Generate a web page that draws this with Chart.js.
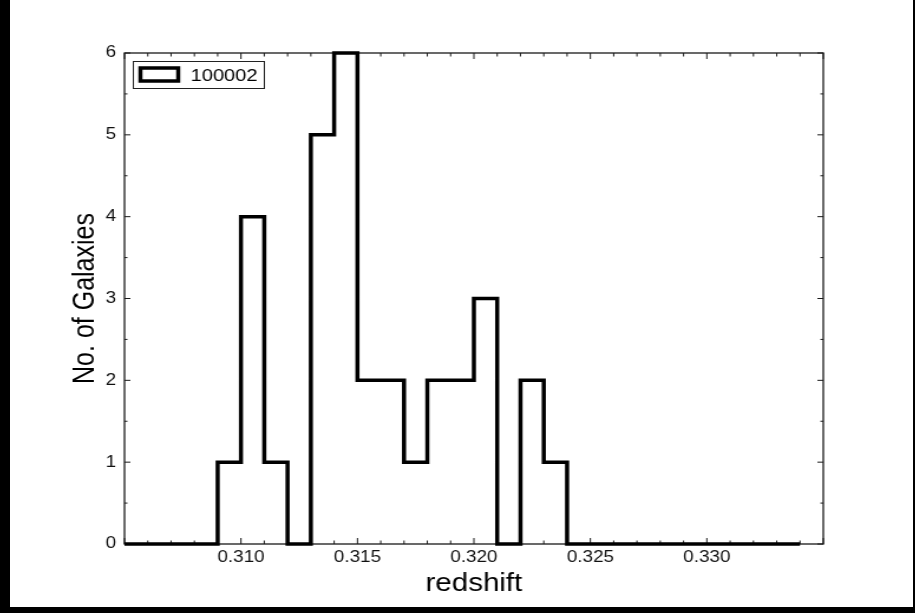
<!DOCTYPE html>
<html>
<head>
<meta charset="utf-8">
<script src="https://cdn.jsdelivr.net/npm/chart.js@4/dist/chart.umd.min.js"></script>
<style>
  html, body { margin: 0; padding: 0; background: #000; }
  #paper { position: absolute; left: 10px; top: 0; width: 903px; height: 607px; background: #fff; overflow: hidden; }
  /* the source picture is stretched sideways a bit, so the canvas is too */
  #chart { display: block; transform-origin: 0 0; transform: scaleX(1.1804); }
</style>
</head>
<body>
<div id="paper"><canvas id="chart" width="765" height="607"></canvas></div>
<script>
// histogram of redshifts, bins of 0.001 (only the edges where the count changes)
const binEdges = [0.305, 0.309, 0.310, 0.311, 0.312, 0.313, 0.314, 0.315, 0.317, 0.318, 0.320, 0.321, 0.322, 0.323, 0.324, 0.334]
const galaxyCounts = [0, 1, 4, 1, 0, 5, 6, 2, 1, 2, 3, 0, 2, 1, 0, 0]
const xTicks = [0.310, 0.315, 0.320, 0.325, 0.330]
const yTicks = [0, 1, 2, 3, 4, 5, 6]
const seriesLabel = '100002'

const FONT = '"Liberation Sans", Arial, Helvetica, sans-serif'

// box round the plot, ticks pointing inwards on all four sides, legend inside
const framePlugin = {
  id: 'frame',
  beforeDatasetsDraw(chart) {
    const { ctx, chartArea: a, scales: { x, y } } = chart
    ctx.save()
    ctx.strokeStyle = '#1a1a1a'
    ctx.lineWidth = 1.3
    ctx.strokeRect(a.left, a.top, a.right - a.left, a.bottom - a.top)

    ctx.lineWidth = 1
    ctx.beginPath()
    for (let i = 0; i <= 30; i++) {
      const px = x.getPixelForValue(x.min + i * 0.001)
      const len = i % 5 === 0 ? 6 : 3.5
      ctx.moveTo(px, a.bottom); ctx.lineTo(px, a.bottom - len)
      ctx.moveTo(px, a.top); ctx.lineTo(px, a.top + len)
    }
    for (let i = 0; i <= 12; i++) {
      const py = y.getPixelForValue(i * 0.5)
      const len = i % 2 === 0 ? 5 : 2.5
      ctx.moveTo(a.left, py); ctx.lineTo(a.left + len, py)
      ctx.moveTo(a.right, py); ctx.lineTo(a.right - len, py)
    }
    ctx.stroke()
    ctx.restore()
  },
  afterDraw(chart) {
    const { ctx, chartArea: a } = chart
    const bx = a.left + 7
    const by = a.top + 8
    ctx.save()
    ctx.fillStyle = '#fff'
    ctx.fillRect(bx, by, 111, 27)
    ctx.strokeStyle = '#222'
    ctx.lineWidth = 1
    ctx.strokeRect(bx + 0.5, by + 0.5, 111, 27)
    ctx.strokeStyle = '#000'
    ctx.lineWidth = 3.5
    ctx.strokeRect(bx + 6.5, by + 7, 32, 13)
    ctx.fillStyle = '#000'
    ctx.font = '17px ' + FONT
    ctx.textBaseline = 'alphabetic'
    ctx.fillText(chart.data.datasets[0].label, bx + 49, by + 19.5)
    ctx.restore()
  }
}

const ctx = document.getElementById('chart').getContext('2d')
new Chart(ctx, {
  type: 'line',
  data: {
    datasets: [{
      label: seriesLabel,
      data: binEdges.map((edge, i) => ({ x: edge, y: galaxyCounts[i] })),
      stepped: 'before',
      borderColor: '#000',
      borderWidth: 3.5,
      pointRadius: 0,
      fill: false,
      clip: false,
    }]
  },
  options: {
    responsive: false,
    animation: false,
    layout: { padding: { top: 53, right: 76, left: 0, bottom: 0 } },
    plugins: {
      legend: { display: false },
      tooltip: { enabled: false },
    },
    scales: {
      x: {
        type: 'linear',
        min: 0.305,
        max: 0.335,
        afterBuildTicks: (scale) => { scale.ticks = xTicks.map((v) => ({ value: v })) },
        afterFit: (scale) => { scale.height = 63 },
        grid: { display: false, drawTicks: false },
        border: { display: false },
        ticks: {
          padding: 4,
          color: '#111',
          font: { family: FONT, size: 16 },
          maxRotation: 0,
          callback: (v) => Number(v).toFixed(3),
        },
        title: {
          display: true,
          text: 'redshift',
          color: '#000',
          font: { family: FONT, size: 25 },
          padding: { top: 0, bottom: 8 },
        },
      },
      y: {
        min: 0,
        max: 6,
        afterBuildTicks: (scale) => { scale.ticks = yTicks.map((v) => ({ value: v })) },
        afterFit: (scale) => { scale.width = 97 },
        grid: { display: false, drawTicks: false },
        border: { display: false },
        ticks: {
          padding: 7,
          color: '#111',
          font: { family: FONT, size: 16 },
        },
        title: {
          display: true,
          text: 'No. of Galaxies',
          color: '#000',
          font: { family: FONT, size: 25 },
          padding: { top: 49, bottom: 0 },
        },
      },
    },
  },
  plugins: [framePlugin],
})
</script>
</body>
</html>
